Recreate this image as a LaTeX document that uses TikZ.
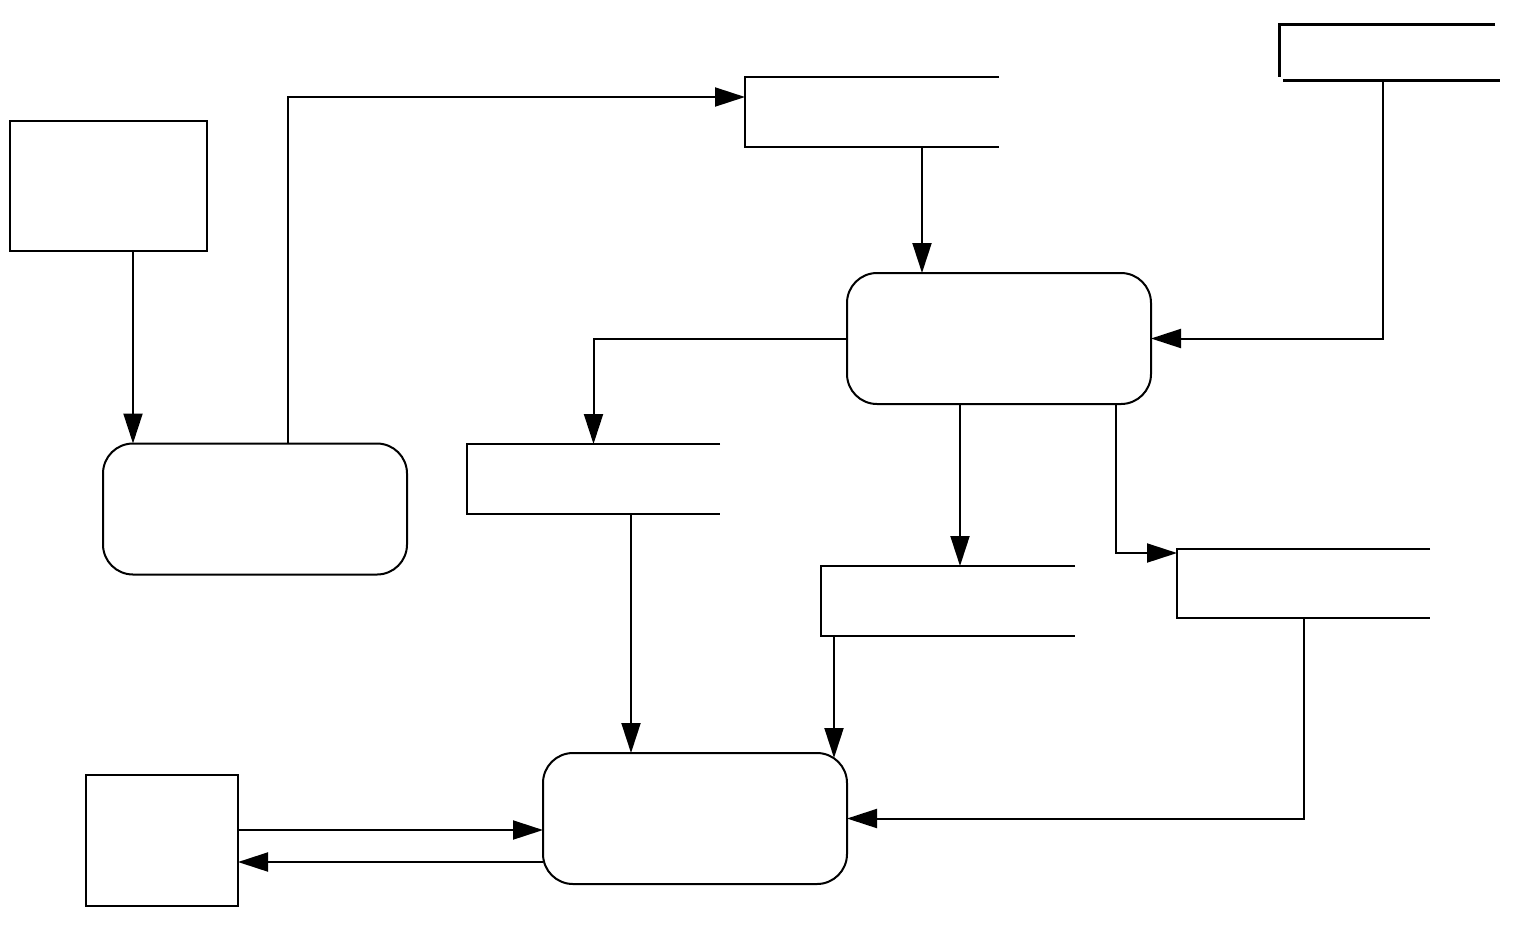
\documentclass[tikz,border=0pt]{standalone}
\usepackage{tikz}
\usetikzlibrary{arrows.meta, positioning, calc}

\begin{document}
\begin{tikzpicture}[x=0.5pt, y=-0.5pt,
                    entity/.style={
            		draw,
			line width=1pt,
			inner sep=0pt,
			outer sep=0pt,
			anchor=center,
            	}, process/.style={
			draw,
			line width=1pt,
			rounded corners=15pt,
            		minimum width=152pt,
            		minimum height=65.5pt,
			inner sep=0pt,
			outer sep=0pt,
			anchor=center,
		}, store/.style={
			inner sep=0pt,
			outer sep=0pt,
            		minimum width=127pt,
            		minimum height=35pt,
			anchor=center,
		}, flow/.style={
			line width=1pt,
			-{Triangle[length=15pt, width=9.5pt]},
		}, ]

\useasboundingbox (0,0) rectangle (1536,933);

% ------ External entities ------- %
\draw
(108.5,186) node[entity, minimum width=98.5pt, minimum height=65pt](ext_top){}
(162,840.5) node[entity, minimum width=76pt, minimum height=65.5pt](ext_bottom){}
;

% ------ Processes ------- %
\draw
(255,509) node[process](proc_left){}
(999,338.5) node[process](proc_right){}
(695,818.5) node[process](proc_bottom){}
;

% ------ Data stores ------- %
\draw
(872,112) node[store](store_top){}
(593.5,479) node[store, minimum width=126.5pt](store_mid){}
(948,601) node[store](store_low){}
(1303.5,583.5) node[store, minimum width=126.5pt, minimum height=34.5pt](store_side){}
(1387,52) node[store, minimum width=108pt, minimum height=28pt](store_corner){}
;

\foreach \s in {store_top, store_mid, store_low, store_side}
	\draw[line width=1pt] (\s.north east) -- (\s.north west) -- (\s.south west) -- (\s.south east);

\draw[line width=1.5pt] (store_corner.north east) -- (store_corner.north west) -- ([yshift=1.5pt]store_corner.south west);
\draw[line width=1.5pt] ([xshift=2pt]store_corner.south west) -- ([xshift=2.5pt]store_corner.south east);

% ------ Flows ------- %
\draw [flow] ([xshift=15pt]proc_left.north west |- ext_top.south) -- ([xshift=15pt]proc_left.north west);
\draw [flow] ([xshift=16.5pt]proc_left.north) |- ([yshift=7.5pt]store_top.west);
\draw [flow] ([xshift=25pt]store_top.south) -- ([xshift=25pt]store_top.south |- proc_right.north);
\draw [flow] ([xshift=-2pt]store_corner.south) |- (proc_right.east);
\draw [flow] (proc_right.west) -| (store_mid.north);
\draw [flow] ([xshift=-19.5pt]proc_right.south) -- ([xshift=-19.5pt]proc_right.south |- store_low.north);
\draw [flow] ([xshift=-17.5pt]proc_right.south east) |- ([yshift=-2pt]store_side.north west);
\draw [flow] ([xshift=18.75pt]store_mid.south) -- ([xshift=18.75pt]store_mid.south |- proc_bottom.north);
\draw [flow, shorten >=-2.5pt] ([xshift=6.5pt]store_low.south west) -- ([xshift=6.5pt]store_low.south west |- proc_bottom.north);
\draw [flow] (store_side.south) |- (proc_bottom.east);
\draw [flow] ([yshift=5.25pt]ext_bottom.east) -- ([yshift=5.25pt]ext_bottom.east -| proc_bottom.west);
\draw [flow] ([yshift=-10.75pt]ext_bottom.east -| proc_bottom.west) -- ([yshift=-10.75pt]ext_bottom.east);

\end{tikzpicture}
\end{document}
